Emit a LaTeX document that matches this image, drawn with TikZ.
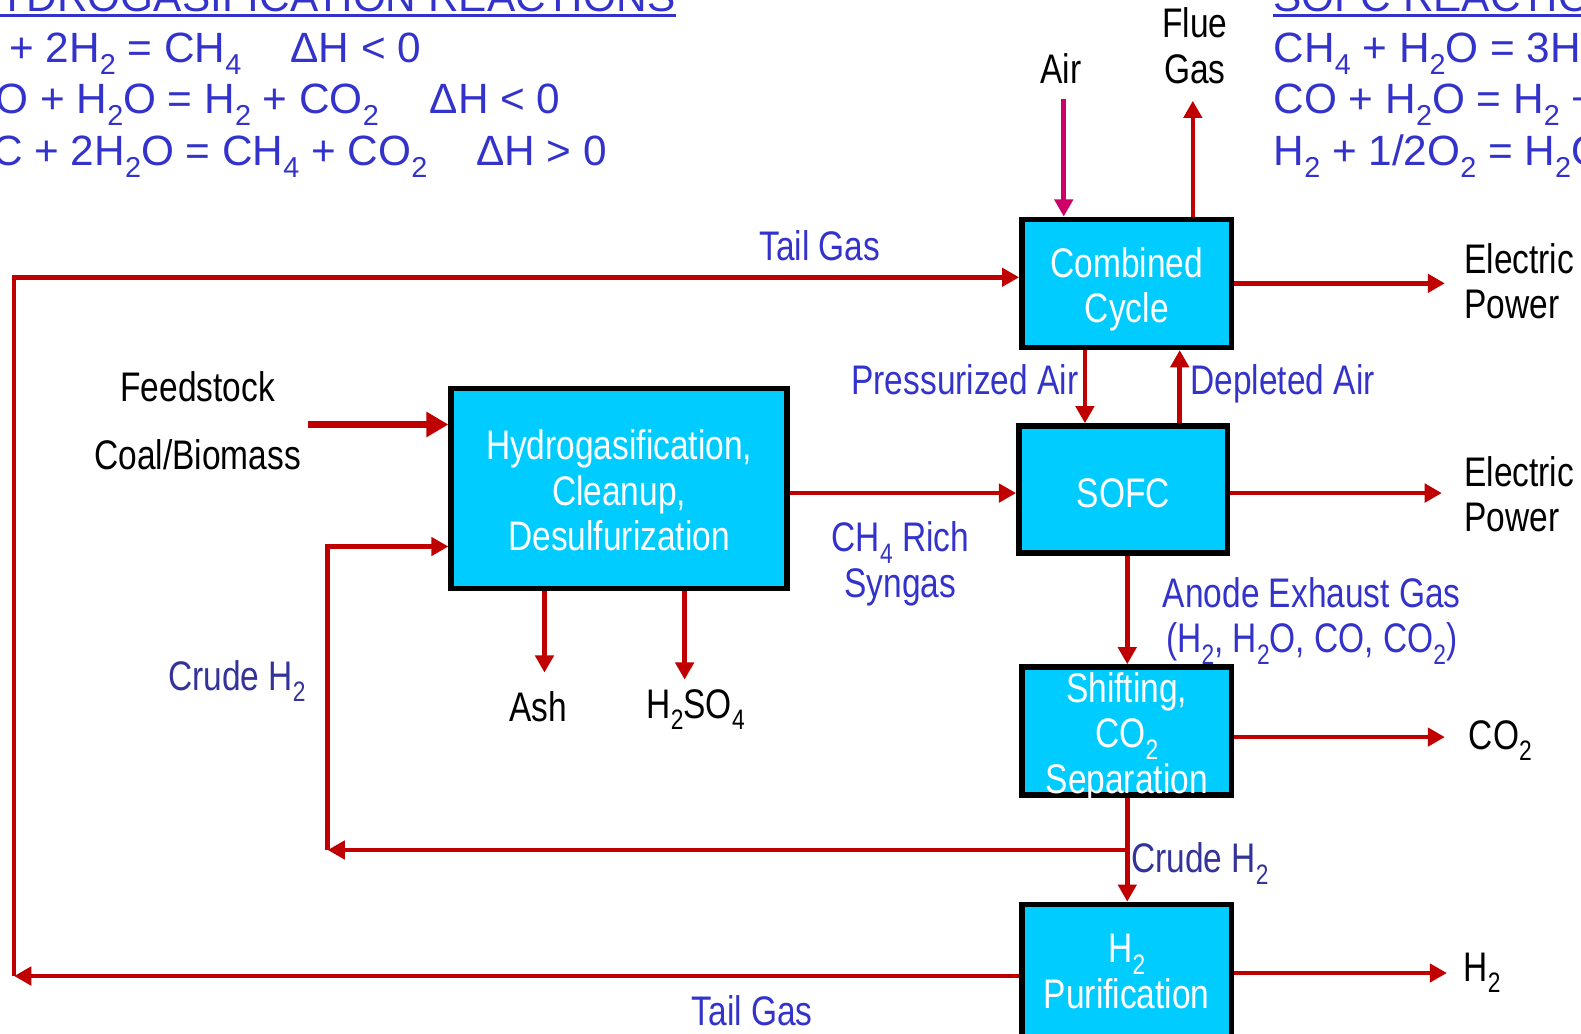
\documentclass[tikz,border=0pt]{standalone}
\usepackage{fontspec}
\usepackage{graphicx}
\setmainfont{Liberation Sans}
\newfontfamily\nar[FakeStretch=0.81]{Liberation Sans}
\usetikzlibrary{arrows.meta,calc}
\definecolor{cyanbox}{HTML}{00CCFF}
\definecolor{redline}{HTML}{C00000}
\definecolor{lblue}{HTML}{3333CC}
\definecolor{navyb}{HTML}{333399}
\definecolor{airmag}{HTML}{CC0066}
\newcommand\sbs[1]{\raisebox{-0.28em}[0pt][0pt]{\scalebox{0.68}{#1}}}
\begin{document}
\begin{tikzpicture}[x=1pt,y=-1pt,
  box/.style={draw=black, line width=5.5pt, fill=cyanbox, inner sep=0pt},
  btxt/.style={inner sep=0pt, align=center, text=white, font=\nar\fontsize{41}{45}\selectfont},
  lbl/.style={inner sep=0pt, align=center, font=\nar\fontsize{41}{45}\selectfont},
  eq/.style={inner sep=0pt, anchor=base west, text=lblue, font=\fontsize{42}{45}\selectfont},
  arr/.style={draw=redline, line width=4.6pt, -{Triangle[length=17pt,width=18pt]}},
  arrthick/.style={draw=redline, line width=7.2pt, -{Triangle[length=22pt,width=24pt]}}]
\useasboundingbox (0,0) rectangle (1568,1025);
\clip (0,0) rectangle (1568,1025);

% reactions
\node[eq, anchor=base east] (t1) at (670,11) {HYDROGASIFICATION REACTIONS};
\draw[lblue, line width=3pt] ([yshift=-4pt]t1.base west) -- ([yshift=-4pt]t1.base east);
\node[eq] (e1) at (-33,62) {C + 2H\sbs{2} = CH\sbs{4}};
\node[eq] (d1) at (288,62) {ΔH < 0};
\node[eq] (e2) at (-35,113) {CO + H\sbs{2}O = H\sbs{2} + CO\sbs{2}};
\node[eq] (d2) at (426,113) {ΔH < 0};
\node[eq] (e3) at (-8,164) {C + 2H\sbs{2}O = CH\sbs{4} + CO\sbs{2}};
\node[eq] (d3) at (472,164) {ΔH > 0};

\node[eq] (t2) at (1263,11) {SOFC REACTIONS};
\draw[lblue, line width=3pt] ([yshift=-4pt]t2.base west) -- ([yshift=-4pt]t2.base east);
\node[eq] (s1) at (1263,62) {CH\sbs{4} + H\sbs{2}O = 3H\sbs{2} + CO};
\node[eq] (s2) at (1263,113) {CO + H\sbs{2}O = H\sbs{2} + CO\sbs{2}};
\node[eq] (s3) at (1263,164) {H\sbs{2} + 1/2O\sbs{2} = H\sbs{2}O};

% boxes
\node[box, minimum width=208pt, minimum height=127pt] (cc) at (1117.5,281) {};
\node[box, minimum width=333pt, minimum height=198pt] (hyd) at (614,484.5) {};
\node[box, minimum width=207pt, minimum height=126pt] (sofc) at (1114,485.5) {};
\node[box, minimum width=208pt, minimum height=127pt] (shift) at (1117.5,725) {};
\node[box, minimum width=208pt, minimum height=160pt] (h2p) at (1117.5,977) {};

\node[btxt] (cct) at (1117.5,287) {Combined\\Cycle};
\node[btxt] (hydt) at (614,486.5) {Hydrogasification,\\Cleanup,\\Desulfurization};
\node[btxt] (sofct) at (1114,489.5) {SOFC};
\node[btxt] (shiftt) at (1117.5,731) {Shifting,\\CO\sbs{2}\\Separation};
\node[btxt] (h2pt) at (1117.5,963.5) {H\sbs{2}\\Purification};

% free ends
\coordinate (tl) at (14,275);
\coordinate (bl) at (14,968);
\coordinate (fs) at (305,421);
\coordinate (cr1) at (325,843);
\coordinate (cr2) at (325,542);
\coordinate (ash) at (540,667);
\coordinate (hso) at (679,674);
\coordinate (air) at (1055,98);
\coordinate (flue) at (1183,100);
\coordinate (ep1) at (1433,281);
\coordinate (ep2) at (1430,489);
\coordinate (co2) at (1433,731);
\coordinate (hh) at (1435,965);
\coordinate (pa) at (1076,0);
\coordinate (da) at (1170,0);
\coordinate (sy) at (0,489);
\coordinate (ax) at (1118,0);

% connectors
\draw[arr] (h2p.west |- bl) -- (bl);
\draw[arr] (bl) -- (tl) -- (cc.west |- tl);
\draw[arrthick] (fs) -- (hyd.west |- fs);
\draw[arr] (shift.south |- cr1) -- (cr1);
\draw[arr] (cr1) -- (cr2) -- (hyd.west |- cr2);
\draw[arr] (hyd.east |- sy) -- (sofc.west |- sy);
\draw[arr] (hyd.south -| ash) -- (ash);
\draw[arr] (hyd.south -| hso) -- (hso);
\draw[arr, draw=airmag] (air) -- (air |- cc.north);
\draw[arr] (flue |- cc.north) -- (flue);
\draw[arr] (cc.east |- ep1) -- (ep1);
\draw[arr] (cc.south -| pa) -- (sofc.north -| pa);
\draw[arr] (sofc.north -| da) -- (cc.south -| da);
\draw[arr] (sofc.east |- ep2) -- (ep2);
\draw[arr] (sofc.south -| ax) -- (shift.north -| ax);
\draw[arr] (shift.east |- co2) -- (co2);
\draw[arr] (shift.south -| ax) -- (h2p.north -| ax);
\draw[arr] (h2p.east |- hh) -- (hh);

% labels
\node[lbl, text=lblue] (ltg1) at (813,244) {Tail Gas};
\node[lbl, text=lblue] (ltg2) at (746,1002) {Tail Gas};
\node[lbl] (lfs) at (196,384) {Feedstock};
\node[lbl] (lcb) at (196,451) {Coal/Biomass};
\node[lbl, text=navyb] (lcr1) at (235,670) {Crude H\sbs{2}};
\node[lbl, text=lblue] (lsyn) at (893,559) {CH\sbs{4} Rich\\Syngas};
\node[lbl] (lash) at (534,701) {Ash};
\node[lbl] (lhso) at (690,698) {H\sbs{2}SO\sbs{4}};
\node[lbl] (lair) at (1052,68) {Air};
\node[lbl] (lflue) at (1185,45.5) {Flue\\Gas};
\node[lbl, anchor=west, align=left] (lep1) at (1452,279) {Electric\\Power};
\node[lbl, text=lblue] (lpa) at (957,377) {Pressurized Air};
\node[lbl, text=lblue] (lda) at (1272,381) {Depleted Air};
\node[lbl, anchor=west, align=left] (lep2) at (1452,490) {Electric\\Power};
\node[lbl, text=lblue] (lan) at (1301,614) {Anode Exhaust Gas\\(H\sbs{2}, H\sbs{2}O, CO, CO\sbs{2})};
\node[lbl] (lco2) at (1488,729) {CO\sbs{2}};
\node[lbl, text=navyb] (lcr2) at (1190,851) {Crude H\sbs{2}};
\node[lbl] (lh2) at (1470,959) {H\sbs{2}};
\end{tikzpicture}
\end{document}
